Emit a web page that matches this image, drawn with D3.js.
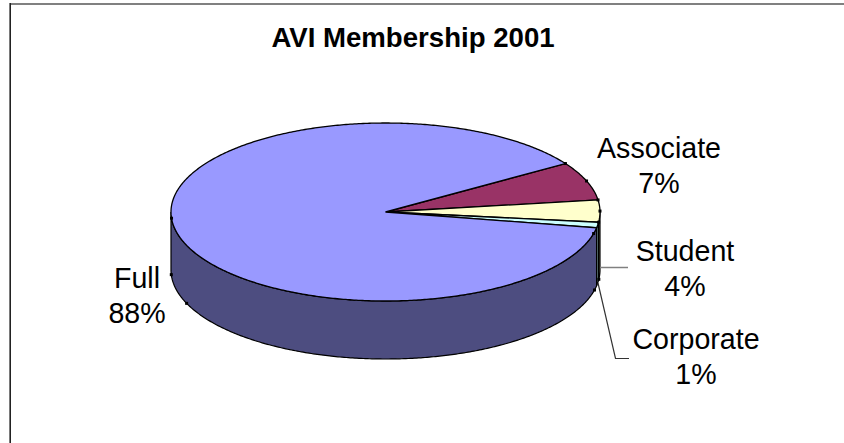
<!DOCTYPE html>
<html><head><meta charset="utf-8">
<script src="https://cdn.jsdelivr.net/npm/d3@7"></script>
<style>html,body{margin:0;background:#fff}svg{display:block}text{font-family:"Liberation Sans",Arial,sans-serif;fill:#000}</style>
</head><body><svg id="c" width="844" height="443"></svg>
<script>
const categories=["Associate","Student","Corporate","Full"];
const values=[7,4,1,88];
const topColors=["#993366","#ffffcc","#ccffff","#9999ff"];
const sideColors=["#4d1a33","#808066","#668080","#4d4d80"];
const handleAngles=[[57,0],[69.6,0],[82.2,0],[89.4,0],[96.6,0],[104,0],[96,1],[103,1],[266,0],[267,1],[248,1]];
const cx=385.5,cy=212,rx=214.5,ry=89,depth=58;
const svg=d3.select("#c");
svg.append("path").attr("d","M10 4H844").attr("fill","none").attr("stroke","#808080").attr("stroke-width",2);
svg.append("path").attr("d","M10.2 3V443").attr("fill","none").attr("stroke","#222").attr("stroke-width",1.6);
svg.append("text").attr("x",413).attr("y",47).attr("text-anchor","middle").attr("font-size",27.6).attr("font-weight","bold").text("AVI Membership 2001");
const sx=d3.scaleLinear().domain([-1,1]).range([cx-rx,cx+rx]);
const sy=d3.scaleLinear().domain([-1,1]).range([cy-ry,cy+ry]);
const pie=d3.pie().sort(null).startAngle(57*Math.PI/180).endAngle((57+360)*Math.PI/180);
const arcs=pie(values);
const pt=a=>[sx(Math.sin(a)),sy(-Math.cos(a))];
const range=(a,b)=>{const n=Math.max(2,Math.ceil(Math.abs(b-a)/0.01));return d3.range(n+1).map(i=>a+(b-a)*i/n)};
const line=d3.line();
function side(a,b,fill){
 const t=range(a,b).map(pt);
 const low=t.slice().reverse().map(p=>[p[0],p[1]+depth]);
 svg.append("path").attr("d",line(t.concat(low))+"Z").attr("fill",fill).attr("stroke","#000").attr("stroke-width",1.2);
}
const vis0=Math.PI/2, vis1=Math.PI*1.5;
arcs.slice().reverse().forEach(d=>{
 const a=Math.max(d.startAngle,vis0), b=Math.min(d.endAngle,vis1);
 if(b>a) side(a,b,sideColors[d.index]);
});
arcs.forEach(d=>{
 const p=range(d.startAngle,d.endAngle).map(pt);
 svg.append("path").attr("d",line([[cx,cy]].concat(p))+"Z").attr("fill",topColors[d.index]).attr("stroke","#000").attr("stroke-width",1.3);
});
handleAngles.forEach(([deg,drop])=>{
 const [x,y]=pt(deg*Math.PI/180);
 svg.append("rect").attr("x",x-1.5).attr("y",y+drop*depth-1.5).attr("width",3).attr("height",3).attr("fill","#000");
});
svg.append("path").attr("d","M600 267.5H628").attr("fill","none").attr("stroke","#808080").attr("stroke-width",1.5);
svg.append("path").attr("d","M598 283L615.5 358.5H629").attr("fill","none").attr("stroke","#333").attr("stroke-width",1.2);
const labelPos=[[659,158],[685,261],[696,349],[137,288]];
categories.forEach((c,i)=>{
 const [x,y]=labelPos[i];
 const t=svg.append("text").attr("text-anchor","middle").attr("font-size",28.6);
 t.append("tspan").attr("x",x).attr("y",y).text(c);
 t.append("tspan").attr("x",x).attr("y",y+35).text(values[i]+"%");
});
</script></body></html>
